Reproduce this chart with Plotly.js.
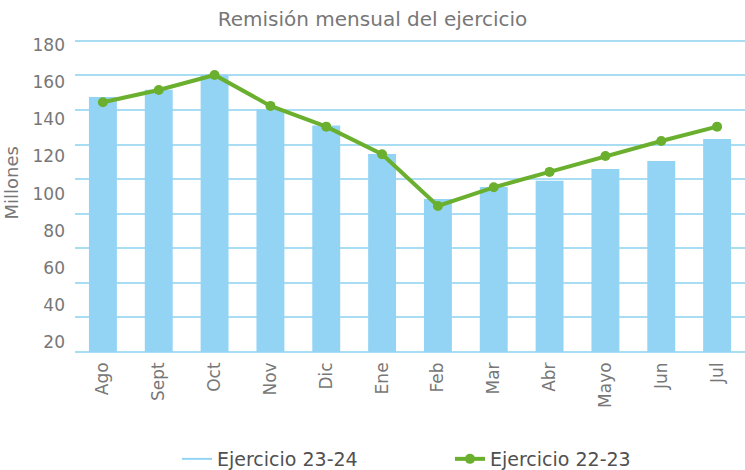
<!DOCTYPE html>
<html>
<head>
<meta charset="utf-8">
<script src="https://cdn.plot.ly/plotly-3.0.1.min.js"></script>
<style>html,body{margin:0;padding:0;background:#fff;}#chart{width:745px;height:470px;}</style>
</head>
<body>
<div id="chart"></div>
<script>
// Data
const months = ["Ago","Sept","Oct","Nov","Dic","Ene","Feb","Mar","Abr","Mayo","Jun","Jul"];
const ejercicio2324 = [147.6,151.8,160.4,140.5,131.0,114.6,88.5,95.5,99.1,105.9,110.5,123.3];
const ejercicio2223 = [144.5,151.6,160.3,142.4,130.4,114.4,84.5,95.3,104.2,113.4,122.1,130.4];
const yTickLabels = [20,40,60,80,100,120,140,160,180];
const seriesNames = ["Ejercicio 23-24","Ejercicio 22-23"];

const barColor = "#93D4F5";
const gridColor = "#A9DDF4";
const green = "#6AB02E";
const font = "DejaVu Sans";

const data = [
  {type:"bar", x:months, y:ejercicio2324, name:seriesNames[0], marker:{color:barColor}, showlegend:false, hoverinfo:"x+y"},
  {type:"scatter", mode:"lines", x:[null], y:[null], yaxis:"y2", name:seriesNames[0], line:{color:barColor, width:2}, showlegend:true},
  {type:"scatter", mode:"lines+markers", x:months, y:ejercicio2223, name:seriesNames[1], line:{color:green, width:4}, marker:{color:green, size:10}}
];

const layout = {
  width:745, height:470,
  margin:{l:75, r:0, t:39, b:118},
  paper_bgcolor:"#fff", plot_bgcolor:"#fff",
  font:{family:font, color:"#777"},
  title:{text:"Remisión mensual del ejercicio", font:{family:font, size:20, color:"#777"}, x:0.5, xref:"container", xanchor:"center", y:1-19/470, yref:"container", yanchor:"middle"},
  bargap:0.5,
  xaxis:{type:"category", range:[-0.5,11.5], tickangle:-90, tickfont:{size:17, color:"#777"}, showgrid:false, zeroline:false, showline:false, ticks:"", ticklabelstandoff:6},
  yaxis:{range:[0,181.1], dtick:20, showticklabels:false, showgrid:true, gridcolor:gridColor, gridwidth:2, zeroline:true, zerolinecolor:gridColor, zerolinewidth:2, ticks:"", fixedrange:true},
  yaxis2:{overlaying:"y", side:"left", range:[14.6,183.3], tickvals:yTickLabels, ticktext:yTickLabels.map(String), showgrid:false, zeroline:false, showline:false, ticks:"", tickfont:{size:17, color:"#777"}, ticklabelstandoff:9},
  legend:{orientation:"h", xref:"container", yref:"container", x:177/745, y:1-459/470, xanchor:"left", yanchor:"middle", font:{size:19, color:"#505050", family:font}, entrywidth:228, entrywidthmode:"pixels", bgcolor:"rgba(0,0,0,0)"},
  annotations:[{text:"Millones", xref:"paper", yref:"paper", x:(11-75)/670, y:(352-183.5)/313, showarrow:false, textangle:-90, xanchor:"center", yanchor:"middle", font:{size:18, color:"#777", family:font}}]
};

Plotly.newPlot("chart", data, layout, {displayModeBar:false, staticPlot:true});
</script>
</body>
</html>
